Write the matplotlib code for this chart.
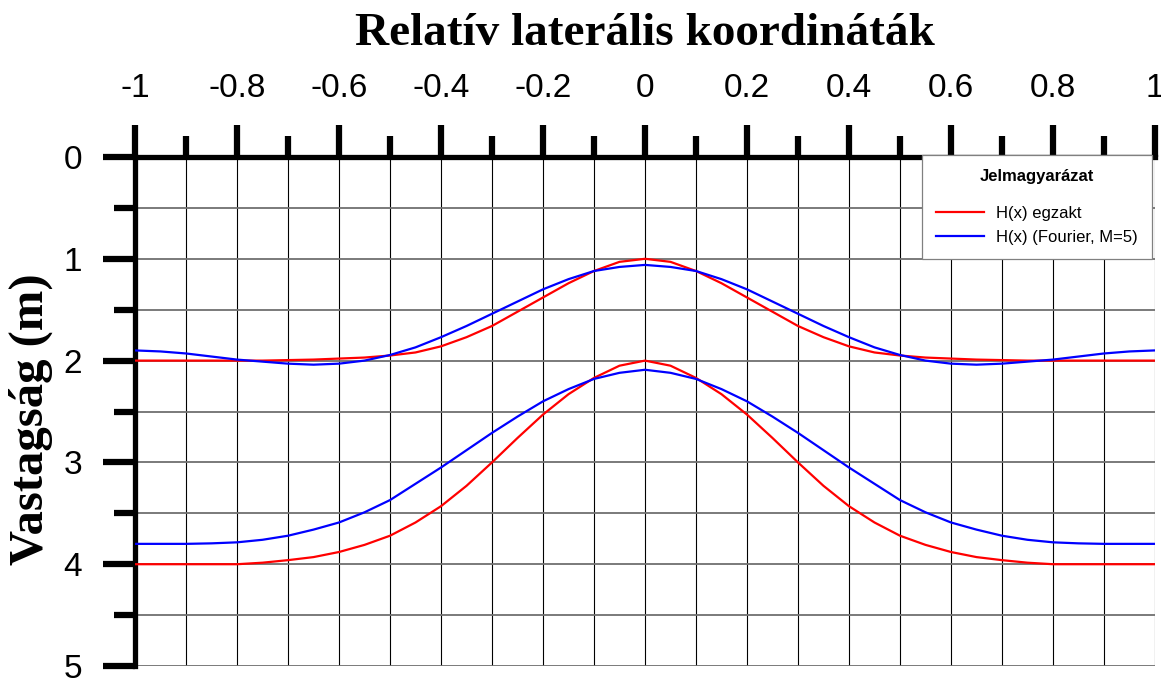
import numpy as np
import matplotlib
matplotlib.use("Agg")
import matplotlib.pyplot as plt
from matplotlib.ticker import MultipleLocator

plt.rcParams['font.family'] = ['Liberation Sans', 'DejaVu Sans']
plt.rcParams['axes.unicode_minus'] = False

# Adatok (x = relatív laterális koordináta, H = vastagság)
x_vals = [-1.0, -0.95, -0.9, -0.85, -0.8, -0.75, -0.7, -0.65, -0.6, -0.55, -0.5,
          -0.45, -0.4, -0.35, -0.3, -0.25, -0.2, -0.15, -0.1, -0.05, 0.0,
          0.05, 0.1, 0.15, 0.2, 0.25, 0.3, 0.35, 0.4, 0.45, 0.5,
          0.55, 0.6, 0.65, 0.7, 0.75, 0.8, 0.85, 0.9, 0.95, 1.0]

# felső görbe - egzakt
h1_exact = [2.0, 2.0, 2.0, 2.0, 2.0, 2.0, 1.995, 1.99, 1.98, 1.97, 1.95,
            1.92, 1.86, 1.77, 1.66, 1.52, 1.38, 1.24, 1.12, 1.03, 1.00,
            1.03, 1.12, 1.24, 1.38, 1.52, 1.66, 1.77, 1.86, 1.92, 1.95,
            1.97, 1.98, 1.99, 1.995, 2.0, 2.0, 2.0, 2.0, 2.0, 2.0]
# felső görbe - Fourier
h1_fourier = [1.90, 1.91, 1.93, 1.96, 1.99, 2.01, 2.03, 2.04, 2.03, 2.00, 1.945,
              1.87, 1.77, 1.66, 1.54, 1.42, 1.30, 1.20, 1.12, 1.08, 1.06,
              1.08, 1.12, 1.20, 1.30, 1.42, 1.54, 1.66, 1.77, 1.87, 1.945,
              2.00, 2.03, 2.04, 2.03, 2.01, 1.99, 1.96, 1.93, 1.91, 1.90]
# alsó görbe - egzakt
h2_exact = [4.0, 4.0, 4.0, 4.0, 4.0, 3.985, 3.96, 3.93, 3.88, 3.81, 3.72,
            3.59, 3.43, 3.23, 3.00, 2.76, 2.53, 2.33, 2.17, 2.05, 2.00,
            2.05, 2.17, 2.33, 2.53, 2.76, 3.00, 3.23, 3.43, 3.59, 3.72,
            3.81, 3.88, 3.93, 3.96, 3.985, 4.0, 4.0, 4.0, 4.0, 4.0]
# alsó görbe - Fourier
h2_fourier = [3.80, 3.80, 3.80, 3.795, 3.785, 3.76, 3.72, 3.66, 3.59, 3.49, 3.37,
              3.21, 3.05, 2.88, 2.71, 2.55, 2.40, 2.28, 2.18, 2.12, 2.09,
              2.12, 2.18, 2.28, 2.40, 2.55, 2.71, 2.88, 3.05, 3.21, 3.37,
              3.49, 3.59, 3.66, 3.72, 3.76, 3.785, 3.795, 3.80, 3.80, 3.80]

x_ticks = [-1.0, -0.8, -0.6, -0.4, -0.2, 0.0, 0.2, 0.4, 0.6, 0.8, 1.0]
x_ticklabels = ['-1', '-0.8', '-0.6', '-0.4', '-0.2', '0', '0.2', '0.4', '0.6', '0.8', '1']
y_ticks = [0, 1, 2, 3, 4, 5]
y_ticklabels = ['0', '1', '2', '3', '4', '5']

fig = plt.figure(figsize=(11.61, 6.79), dpi=100)
ax = fig.add_axes([0.1163, 0.0191, 0.8785, 0.7497])

# Rács
for xv in np.arange(-1.0, 1.0001, 0.1):
    ax.axvline(xv, color='black', lw=0.8, zorder=1)
for yv in np.arange(0.0, 5.0001, 0.5):
    ax.axhline(yv, color='#707070', lw=1.3, zorder=1)

ax.plot(x_vals, h1_exact, color='#ff0000', lw=1.6, label='H(x) egzakt', zorder=3)
ax.plot(x_vals, h1_fourier, color='#0000ff', lw=1.6, label='H(x) (Fourier, M=5)', zorder=3)
ax.plot(x_vals, h2_exact, color='#ff0000', lw=1.6, zorder=3)
ax.plot(x_vals, h2_fourier, color='#0000ff', lw=1.6, zorder=3)

ax.set_xlim(-1, 1)
ax.set_ylim(5, 0)

ax.set_xticks(x_ticks)
ax.set_xticklabels(x_ticklabels)
ax.xaxis.set_minor_locator(MultipleLocator(0.1))
ax.set_yticks(y_ticks)
ax.set_yticklabels(y_ticklabels)
ax.yaxis.set_minor_locator(MultipleLocator(0.5))

ax.xaxis.tick_top()
ax.tick_params(axis='x', which='major', direction='out', length=23, width=4.5,
               pad=15, labelsize=24, top=True, bottom=False)
ax.tick_params(axis='x', which='minor', direction='out', length=15, width=4.5,
               top=True, bottom=False)
ax.tick_params(axis='y', which='major', direction='out', length=23, width=4.5,
               pad=15, labelsize=24)
ax.tick_params(axis='y', which='minor', direction='out', length=15, width=4.5)

for side in ['right', 'bottom']:
    ax.spines[side].set_visible(False)
for side in ['top', 'left']:
    ax.spines[side].set_linewidth(3.8)

ax.set_xlabel('Relatív laterális koordináták', family='Liberation Serif',
              fontweight='bold', fontsize=34)
ax.xaxis.set_label_position('top')
ax.xaxis.label.set_va('baseline')
ax.xaxis.set_label_coords(0.5, 1.22)
ax.set_ylabel('Vastagság (m)', family='Liberation Serif', fontweight='bold', fontsize=35)
ax.yaxis.label.set_va('center')
ax.yaxis.set_label_coords(-0.102, 0.485)

leg = ax.legend(loc='upper right', bbox_to_anchor=(0.997, 1.004), fontsize=12,
                title='Jelmagyarázat', title_fontproperties={'weight': 'bold', 'size': 12},
                fancybox=False, framealpha=1, edgecolor='#808080',
                handlelength=2.9, handletextpad=0.7, borderpad=0.85,
                labelspacing=0.55, borderaxespad=0)
# nagyobb hely a cím és a bejegyzések között
leg._legend_box.sep = 15.6
leg.get_frame().set_linewidth(0.9)
leg.set_zorder(5)

fig.savefig('out.png', dpi=100)
